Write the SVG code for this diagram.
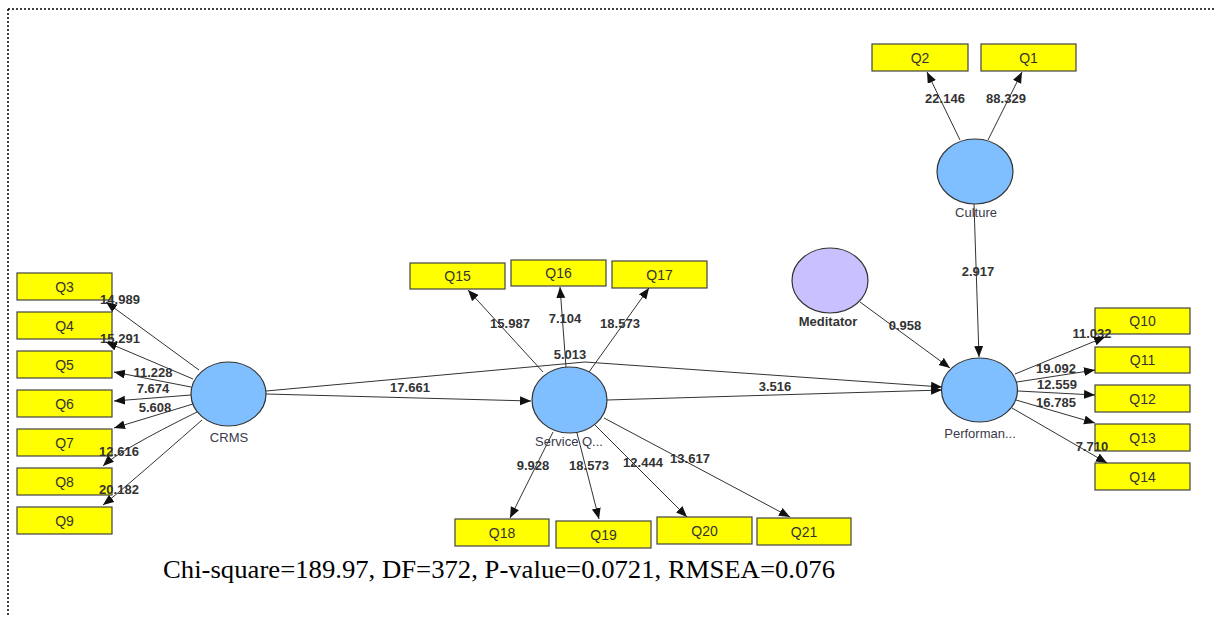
<svg xmlns="http://www.w3.org/2000/svg" width="1216" height="617" viewBox="0 0 1216 617">
<style>
.box{fill:#ffff00;stroke:#444;stroke-width:1.2}
.qt{font-family:"Liberation Sans",Arial,sans-serif;font-size:14px;fill:#333;text-anchor:middle}
.lv{fill:#7fbfff;stroke:#333;stroke-width:1.2}
.med{fill:#c8c0ff;stroke:#333;stroke-width:1.2}
.nl{font-family:"Liberation Sans",Arial,sans-serif;font-size:13px;fill:#3a3a4a;text-anchor:middle}
.el{font-family:"Liberation Sans",Arial,sans-serif;font-size:13px;font-weight:bold;fill:#333;text-anchor:middle}
.c{fill:none;stroke:#333;stroke-width:1;marker-end:url(#ah)}
</style>
<defs>
<marker id="ah" markerUnits="userSpaceOnUse" markerWidth="12" markerHeight="10" refX="11" refY="4.5" orient="auto">
<path d="M0,0 L11,4.5 L0,9 z" fill="#111"/>
</marker>
</defs>
<rect width="1216" height="617" fill="#fff"/>
<g id="border" stroke="#000" stroke-width="1.5" stroke-dasharray="2,2" fill="none">
<line x1="8" y1="9" x2="1216" y2="9"/>
<line x1="8" y1="9" x2="8" y2="617"/>
</g>

<g id="Q3"><rect class="box" x="17" y="273" width="95" height="27"/><text class="qt" x="64.5" y="292">Q3</text></g>
<g id="Q4"><rect class="box" x="17" y="312" width="95" height="27"/><text class="qt" x="64.5" y="331">Q4</text></g>
<g id="Q5"><rect class="box" x="17" y="351" width="95" height="27"/><text class="qt" x="64.5" y="370">Q5</text></g>
<g id="Q6"><rect class="box" x="17" y="390" width="95" height="27"/><text class="qt" x="64.5" y="409">Q6</text></g>
<g id="Q7"><rect class="box" x="17" y="429" width="95" height="27"/><text class="qt" x="64.5" y="448">Q7</text></g>
<g id="Q8"><rect class="box" x="17" y="468" width="95" height="27"/><text class="qt" x="64.5" y="487">Q8</text></g>
<g id="Q9"><rect class="box" x="17" y="507" width="95" height="27"/><text class="qt" x="64.5" y="526">Q9</text></g>

<g id="Q15"><rect class="box" x="410" y="263" width="95" height="26"/><text class="qt" x="457.5" y="281">Q15</text></g>
<g id="Q16"><rect class="box" x="511" y="260" width="95" height="26"/><text class="qt" x="558.5" y="278">Q16</text></g>
<g id="Q17"><rect class="box" x="612" y="261" width="95" height="27"/><text class="qt" x="659.5" y="280">Q17</text></g>
<g id="Q18"><rect class="box" x="455" y="519" width="94" height="27"/><text class="qt" x="502" y="538">Q18</text></g>
<g id="Q19"><rect class="box" x="556" y="521" width="95" height="27"/><text class="qt" x="603.5" y="540">Q19</text></g>
<g id="Q20"><rect class="box" x="657" y="517" width="95" height="27"/><text class="qt" x="704.5" y="536">Q20</text></g>
<g id="Q21"><rect class="box" x="757" y="518" width="94" height="27"/><text class="qt" x="804" y="537">Q21</text></g>

<g id="Q2"><rect class="box" x="872" y="44" width="96" height="27"/><text class="qt" x="920" y="63">Q2</text></g>
<g id="Q1"><rect class="box" x="981" y="44" width="95" height="27"/><text class="qt" x="1028.5" y="63">Q1</text></g>

<g id="Q10"><rect class="box" x="1095" y="308" width="95" height="26"/><text class="qt" x="1142.5" y="326">Q10</text></g>
<g id="Q11"><rect class="box" x="1095" y="347" width="95" height="26"/><text class="qt" x="1142.5" y="365">Q11</text></g>
<g id="Q12"><rect class="box" x="1095" y="385" width="95" height="27"/><text class="qt" x="1142.5" y="404">Q12</text></g>
<g id="Q13"><rect class="box" x="1095" y="424" width="95" height="27"/><text class="qt" x="1142.5" y="443">Q13</text></g>
<g id="Q14"><rect class="box" x="1095" y="463" width="95" height="27"/><text class="qt" x="1142.5" y="482">Q14</text></g>

<g id="CRMS"><ellipse class="lv" cx="228.5" cy="394" rx="37.5" ry="32"/><text class="nl" x="229" y="442">CRMS</text></g>
<g id="ServiceQ"><ellipse class="lv" cx="569.5" cy="400" rx="37.5" ry="33"/><text class="nl" x="569" y="446">Service Q...</text></g>
<g id="Culture"><ellipse class="lv" cx="975" cy="171.5" rx="38" ry="32.5"/><text class="nl" x="976" y="217">Culture</text></g>
<g id="Meditator"><ellipse class="med" cx="830" cy="280.5" rx="38" ry="32.5"/><text class="el" x="828" y="326">Meditator</text></g>
<g id="Performance"><ellipse class="lv" cx="979.5" cy="390" rx="38" ry="32"/><text class="nl" x="980" y="438">Performan...</text></g>

<g id="edge-labels">
<text class="el" x="120" y="304">14.989</text>
<text class="el" x="120" y="343">15.291</text>
<text class="el" x="153" y="377">11.228</text>
<text class="el" x="153" y="393">7.674</text>
<text class="el" x="155" y="412">5.608</text>
<text class="el" x="119" y="456">12.616</text>
<text class="el" x="119" y="494">20.182</text>
<text class="el" x="410" y="392">17.661</text>
<text class="el" x="570" y="359">5.013</text>
<text class="el" x="775" y="391">3.516</text>
<text class="el" x="510" y="328">15.987</text>
<text class="el" x="565" y="323">7.104</text>
<text class="el" x="620" y="328">18.573</text>
<text class="el" x="533" y="470">9.928</text>
<text class="el" x="589" y="470">18.573</text>
<text class="el" x="643" y="467">12.444</text>
<text class="el" x="690" y="463">13.617</text>
<text class="el" x="945" y="103">22.146</text>
<text class="el" x="1006" y="103">88.329</text>
<text class="el" x="978" y="276">2.917</text>
<text class="el" x="905" y="330">0.958</text>
<text class="el" x="1092" y="338">11.032</text>
<text class="el" x="1056" y="373">19.092</text>
<text class="el" x="1057" y="389">12.559</text>
<text class="el" x="1056" y="407">16.785</text>
<text class="el" x="1092" y="451">7.710</text>
</g>

<g id="connectors">
<path class="c" d="M199,370 L106,302"/>
<path class="c" d="M193,379 L106,342"/>
<path class="c" d="M191,387 L114,372"/>
<path class="c" d="M191,395 L114,401"/>
<path class="c" d="M193,404 L114,428"/>
<path class="c" d="M197,412 Q120,450 103,466"/>
<path class="c" d="M202,420 Q120,492 103,505"/>
<path class="c" d="M266,394 L531,401"/>
<path class="c" d="M266,391 L585,362 L942,387"/>
<path class="c" d="M607,400 L942,390"/>
<path class="c" d="M543,372 L468,290"/>
<path class="c" d="M566,367 L560,287"/>
<path class="c" d="M589,372 L649,288"/>
<path class="c" d="M553,432 L510,518"/>
<path class="c" d="M577,433 L599,519"/>
<path class="c" d="M595,425 L687,517"/>
<path class="c" d="M604,418 L790,517"/>
<path class="c" d="M960,140 L927,72"/>
<path class="c" d="M988,140 L1022,72"/>
<path class="c" d="M974,204 L979,357"/>
<path class="c" d="M860,302 L950,368"/>
<path class="c" d="M1015,374 L1105,337"/>
<path class="c" d="M1017,382 L1095,370"/>
<path class="c" d="M1018,391 L1095,395"/>
<path class="c" d="M1016,400 L1095,423"/>
<path class="c" d="M1012,408 L1107,463"/>
</g>

<text x="163" y="578" font-family="'Liberation Serif','Times New Roman',serif" font-size="25" textLength="672" lengthAdjust="spacingAndGlyphs" fill="#000">Chi-square=189.97, DF=372, P-value=0.0721, RMSEA=0.076</text>
</svg>
